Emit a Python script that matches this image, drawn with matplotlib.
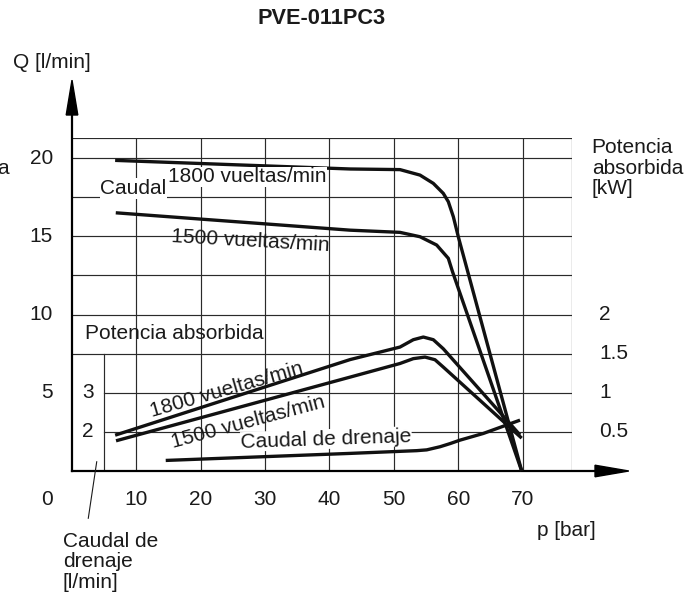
import matplotlib
matplotlib.use("Agg")
import matplotlib.pyplot as plt
from matplotlib.patches import Polygon

plt.rcParams['font.family'] = ['Liberation Sans', 'DejaVu Sans']

# ---------------- data ----------------
title = "PVE-011PC3"
x_ticks = [10, 20, 30, 40, 50, 60, 70]
q_ticks = [20, 15, 10, 5]
power_ticks = [2, 1.5, 1, 0.5]          # kW
drain_ticks = [3, 2]                     # l/min

# Flow Q [l/min] vs pressure p [bar]
p_flow_1800 = [6.7, 43.2, 50.95, 54.06, 56.13, 57.68, 58.46, 59.24, 60.01, 69.86]
q_flow_1800 = [19.85, 19.3, 19.26, 18.91, 18.38, 17.74, 17.21, 16.25, 14.97, 0.0]
p_flow_1500 = [6.8, 43.2, 50.95, 54.06, 56.65, 58.46, 59.1, 69.86]
q_flow_1500 = [16.5, 15.39, 15.25, 14.97, 14.44, 13.59, 12.75, 0.0]

# Absorbed power [kW]
p_pow_1800 = [6.7, 43.2, 50.95, 53.02, 54.58, 56.13, 57.68, 69.6]
kw_pow_1800 = [0.458, 1.424, 1.584, 1.678, 1.712, 1.678, 1.562, 0.46]
p_pow_1500 = [6.84, 43.2, 50.95, 53.02, 54.84, 56.39, 57.68, 69.86]
kw_pow_1500 = [0.386, 1.20, 1.374, 1.436, 1.456, 1.422, 1.328, 0.42]

# Drain flow [l/min]
p_drain = [14.56, 43.2, 53.55, 55.1, 57.17, 58.72, 60.3, 63.9, 69.6]
d_drain = [1.27, 1.45, 1.52, 1.54, 1.62, 1.70, 1.79, 1.96, 2.30]

# scales of the secondary quantities on the Q axis
def kw_to_q(v):
    return v * 5.0

def drain_to_q(v):
    return (v - 1.0) * 2.5

# ---------------- figure ----------------
W, H = 699, 594
fig = plt.figure(figsize=(W / 100, H / 100), dpi=100)
x0, x1, y0, y1 = 72, 572.3, 471, 138
ax = fig.add_axes([x0 / W, 1 - y0 / H, (x1 - x0) / W, (y0 - y1) / H])
XMAX, YMAX = 77.72, 21.28
ax.set_xlim(0, XMAX)
ax.set_ylim(0, YMAX)
ax.axis('off')

gc = '#2a2a2a'
glw = 0.85
# grid
for p in x_ticks:
    ax.plot([p, p], [0, YMAX], color=gc, lw=glw, zorder=1)
for q in [7.5, 10, 12.5, 15, 17.5, 20]:
    ax.plot([0, XMAX], [q, q], color=gc, lw=glw, zorder=1)
for q in [2.5, 5]:
    ax.plot([5.0, XMAX], [q, q], color=gc, lw=glw, zorder=1)
ax.plot([5.0, 5.0], [0, 7.5], color=gc, lw=glw, zorder=1)
ax.plot([0, XMAX], [YMAX, YMAX], color=gc, lw=glw, zorder=1)
ax.plot([XMAX, XMAX], [0, YMAX], color=gc, lw=glw, zorder=1)

# axes with arrows
alw = 1.6
ax.plot([0, 0], [0, 22.9], color='black', lw=alw, clip_on=False, zorder=3)
ax.plot([0, 81.5], [0, 0], color='black', lw=alw, clip_on=False, zorder=3)
ax.add_patch(Polygon([[-0.9, 22.75], [0.9, 22.75], [0, 24.98]], closed=True,
                     color='black', clip_on=False, zorder=3))
ax.add_patch(Polygon([[81.25, -0.37], [81.25, 0.37], [86.5, 0]], closed=True,
                     color='black', clip_on=False, zorder=3))

# curves
clw = 2.4
cc = '#111111'
kw = dict(color=cc, lw=clw, solid_capstyle='butt', solid_joinstyle='round', zorder=4, clip_on=False)
ax.plot(p_flow_1800, q_flow_1800, **kw)
ax.plot(p_flow_1500, q_flow_1500, **kw)
ax.plot(p_pow_1800, [kw_to_q(v) for v in kw_pow_1800], **kw)
ax.plot(p_pow_1500, [kw_to_q(v) for v in kw_pow_1500], **kw)
ax.plot(p_drain, [drain_to_q(v) for v in d_drain], **kw)

FS = 15
tc = '#1a1a1a'
# tick labels
for p in x_ticks:
    ax.text(p, -1.79, str(p), ha='center', va='center', fontsize=FS, color=tc, clip_on=False)
ax.text(-2.95, -1.79, "0", ha='right', va='center', fontsize=FS, color=tc)
for q in q_ticks:
    ax.text(-2.95, q, str(q), ha='right', va='center', fontsize=FS, color=tc)
for v in power_ticks:
    ax.text(81.87, kw_to_q(v), f"{v:g}", ha='left', va='center', fontsize=FS, color=tc)
for v in drain_ticks:
    ax.text(2.49, drain_to_q(v), str(v), ha='center', va='center', fontsize=FS, color=tc)

# axis titles
fig.text(322 / W, 1 - 19 / H, title, ha='center', va='center', fontsize=15.7,
         fontweight='bold', color=tc)
fig.text(13 / W, 1 - 63 / H, "Q [l/min]", ha='left', va='center', fontsize=FS, color=tc)
fig.text(9 / W, 1 - 169 / H, "a", ha='right', va='center', fontsize=FS, color=tc)
ax.text(72.24, -3.83, "p [bar]", ha='left', va='center', fontsize=FS, color=tc)
ax.text(80.74, 19.36, "Potencia\nabsorbida\n[kW]", ha='left', va='center',
        fontsize=FS, color=tc, linespacing=1.1)
ax.text(-1.40, -5.80, "Caudal de\ndrenaje\n[l/min]", ha='left', va='center',
        fontsize=FS, color=tc, linespacing=1.1)
ax.plot([2.53, 3.84], [-3.02, 0.59], color=tc, lw=0.8, clip_on=False, zorder=3)

# in-plot labels
wb = dict(facecolor='white', edgecolor='none', pad=0.5)
ax.text(2.02, 8.80, "Potencia absorbida", ha='left', va='center', fontsize=FS, color=tc, zorder=5)
ax.text(9.53, 18.06, "Caudal", ha='center', va='center', fontsize=FS, color=tc,
        bbox=wb, zorder=5)
ax.text(14.91, 18.79, "1800 vueltas/min", ha='left', va='center', fontsize=FS, color=tc,
        bbox=wb, zorder=5)
ax.text(27.73, 14.70, "1500 vueltas/min", ha='center', va='center', fontsize=FS, color=tc,
        rotation=-3.3, rotation_mode='anchor', zorder=5)
ax.text(24.08, 5.18, "1800 vueltas/min", ha='center', va='center', fontsize=FS, color=tc,
        rotation=16, rotation_mode='anchor', zorder=5)
ax.text(27.39, 3.15, "1500 vueltas/min", ha='center', va='center', fontsize=FS, color=tc,
        rotation=15, rotation_mode='anchor', zorder=5)
ax.text(39.46, 2.04, "Caudal de drenaje", ha='center', va='center', fontsize=FS, color=tc,
        rotation=2, rotation_mode='anchor', bbox=dict(facecolor='white', edgecolor='none', pad=0.3),
        zorder=3.5)

fig.savefig("out.png", dpi=100, facecolor='white')
